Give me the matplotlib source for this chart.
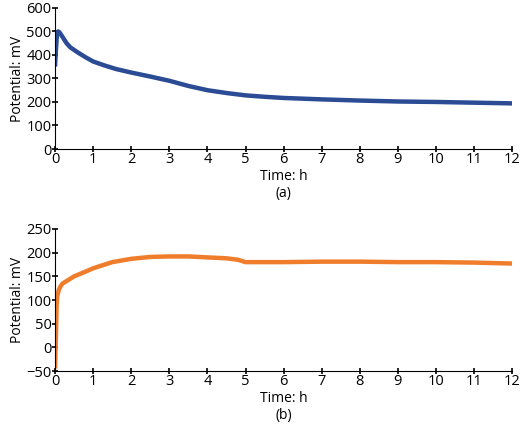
import matplotlib.pyplot as plt

plt.rcParams['font.family'] = ['Open Sans', 'DejaVu Sans']

# readings from the picture
time_a = [0.0, 0.02, 0.05, 0.08, 0.12, 0.2, 0.3, 0.4, 0.6, 0.8, 1.0, 1.3, 1.6, 2.0, 2.5, 3.0, 3.5, 4.0, 4.5, 5.0, 5.5, 6.0, 7.0, 8.0, 9.0, 10.0, 11.0, 12.0]
pot_a = [360, 420, 490, 500, 495, 475, 450, 432, 410, 390, 372, 355, 340, 325, 308, 290, 268, 250, 238, 228, 222, 217, 211, 206, 202, 200, 197, 194]

time_b = [0.0, 0.02, 0.04, 0.06, 0.1, 0.15, 0.2, 0.3, 0.5, 0.8, 1.0, 1.5, 2.0, 2.5, 3.0, 3.5, 4.0, 4.5, 4.8, 5.0, 5.5, 6.0, 7.0, 8.0, 9.0, 10.0, 11.0, 12.0]
pot_b = [-40, 20, 90, 110, 122, 130, 135, 140, 150, 160, 167, 180, 187, 191, 192, 192, 190, 188, 185, 180, 180, 180, 181, 181, 180, 180, 179, 177]

fig = plt.figure(figsize=(5.2, 4.37), dpi=100)
ax_a = fig.add_axes([0.106, 0.659, 0.879, 0.323])
ax_b = fig.add_axes([0.106, 0.151, 0.879, 0.325])

ax_a.plot(time_a, pot_a, color='#2b4c94', lw=3.2)
ax_b.plot(time_b, pot_b, color='#ef7d2b', lw=3.2)

for ax, lim, step, lab in [(ax_a, (0, 600), 100, '(a)'), (ax_b, (-50, 250), 50, '(b)')]:
    ax.set_xlim(0, 12)
    ax.set_ylim(*lim)
    ax.set_xticks(range(0, 13))
    ax.set_yticks(range(lim[0], lim[1] + 1, step))
    ax.spines[['top', 'right']].set_visible(False)
    ax.tick_params(direction='inout', length=5, width=1.2, labelsize=10.5, pad=0)
    ax.set_ylabel('Potential: mV', fontsize=10, labelpad=1)
    ax.set_xlabel('Time: h\n' + lab, fontsize=10, labelpad=1, linespacing=1.15)

fig.savefig('out.png')
